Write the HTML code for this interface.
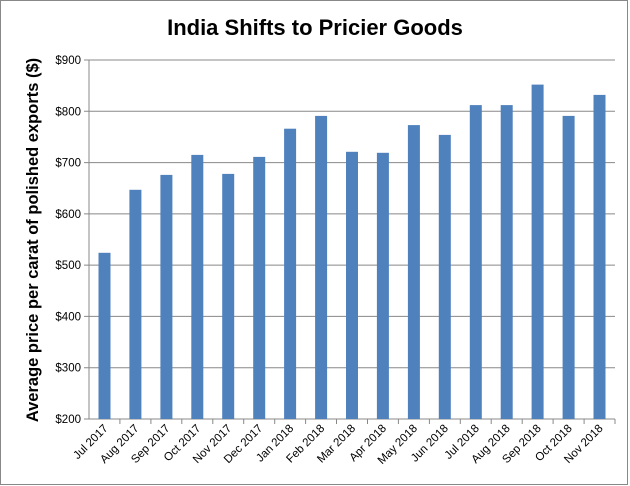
<!DOCTYPE html>
<html><head><style>body{margin:0;background:#fff}svg{display:block}</style></head><body>
<svg width="630" height="486" xmlns="http://www.w3.org/2000/svg" font-family="Liberation Sans, sans-serif">
<rect x="0.5" y="0.5" width="627" height="484" fill="#fff" stroke="#888"/>
<text x="315" y="35" text-anchor="middle" font-size="22" font-weight="bold">India Shifts to Pricier Goods</text>
<text transform="translate(38,240) rotate(-90)" text-anchor="middle" font-size="16.5" font-weight="bold">Average price per carat of polished exports ($)</text>
<g stroke="#888" stroke-width="1">
<line x1="84" x2="615" y1="60" y2="60"/>
<line x1="84" x2="615" y1="111.3" y2="111.3"/>
<line x1="84" x2="615" y1="162.6" y2="162.6"/>
<line x1="84" x2="615" y1="213.9" y2="213.9"/>
<line x1="84" x2="615" y1="265.1" y2="265.1"/>
<line x1="84" x2="615" y1="316.4" y2="316.4"/>
<line x1="84" x2="615" y1="367.7" y2="367.7"/>
<line x1="84" x2="615" y1="419" y2="419"/>
<line x1="89" x2="89" y1="60" y2="419"/>
<path d="M119.9 419v5M150.9 419v5M181.8 419v5M212.8 419v5M243.7 419v5M274.7 419v5M305.6 419v5M336.5 419v5M367.5 419v5M398.4 419v5M429.4 419v5M460.3 419v5M491.2 419v5M522.2 419v5M553.1 419v5M584.1 419v5M615 419v5"/>
</g>
<g font-size="11.5" text-anchor="end">
<text x="81" y="64">$900</text>
<text x="81" y="115.3">$800</text>
<text x="81" y="166.6">$700</text>
<text x="81" y="217.9">$600</text>
<text x="81" y="269.1">$500</text>
<text x="81" y="320.4">$400</text>
<text x="81" y="371.7">$300</text>
<text x="81" y="423">$200</text>
</g>
<g fill="#4f81bd">
<rect x="98.5" y="252.8" width="12" height="166.2"/>
<rect x="129.4" y="189.8" width="12" height="229.2"/>
<rect x="160.4" y="174.9" width="12" height="244.1"/>
<rect x="191.3" y="154.9" width="12" height="264.1"/>
<rect x="222.2" y="173.9" width="12" height="245.1"/>
<rect x="253.2" y="156.9" width="12" height="262.1"/>
<rect x="284.1" y="128.7" width="12" height="290.3"/>
<rect x="315.1" y="115.9" width="12" height="303.1"/>
<rect x="346" y="151.8" width="12" height="267.2"/>
<rect x="376.9" y="152.8" width="12" height="266.2"/>
<rect x="407.9" y="125.1" width="12" height="293.9"/>
<rect x="438.8" y="134.9" width="12" height="284.1"/>
<rect x="469.8" y="105.1" width="12" height="313.9"/>
<rect x="500.7" y="105.1" width="12" height="313.9"/>
<rect x="531.6" y="84.6" width="12" height="334.4"/>
<rect x="562.6" y="115.9" width="12" height="303.1"/>
<rect x="593.5" y="94.9" width="12" height="324.1"/>
</g>
<g font-size="11.5" text-anchor="end">
<text transform="translate(108.5,429) rotate(-45)">Jul 2017</text>
<text transform="translate(139.4,429) rotate(-45)">Aug 2017</text>
<text transform="translate(170.4,429) rotate(-45)">Sep 2017</text>
<text transform="translate(201.3,429) rotate(-45)">Oct 2017</text>
<text transform="translate(232.2,429) rotate(-45)">Nov 2017</text>
<text transform="translate(263.2,429) rotate(-45)">Dec 2017</text>
<text transform="translate(294.1,429) rotate(-45)">Jan 2018</text>
<text transform="translate(325.1,429) rotate(-45)">Feb 2018</text>
<text transform="translate(356,429) rotate(-45)">Mar 2018</text>
<text transform="translate(386.9,429) rotate(-45)">Apr 2018</text>
<text transform="translate(417.9,429) rotate(-45)">May 2018</text>
<text transform="translate(448.8,429) rotate(-45)">Jun 2018</text>
<text transform="translate(479.8,429) rotate(-45)">Jul 2018</text>
<text transform="translate(510.7,429) rotate(-45)">Aug 2018</text>
<text transform="translate(541.6,429) rotate(-45)">Sep 2018</text>
<text transform="translate(572.6,429) rotate(-45)">Oct 2018</text>
<text transform="translate(603.5,429) rotate(-45)">Nov 2018</text>
</g>
</svg>
</body></html>
